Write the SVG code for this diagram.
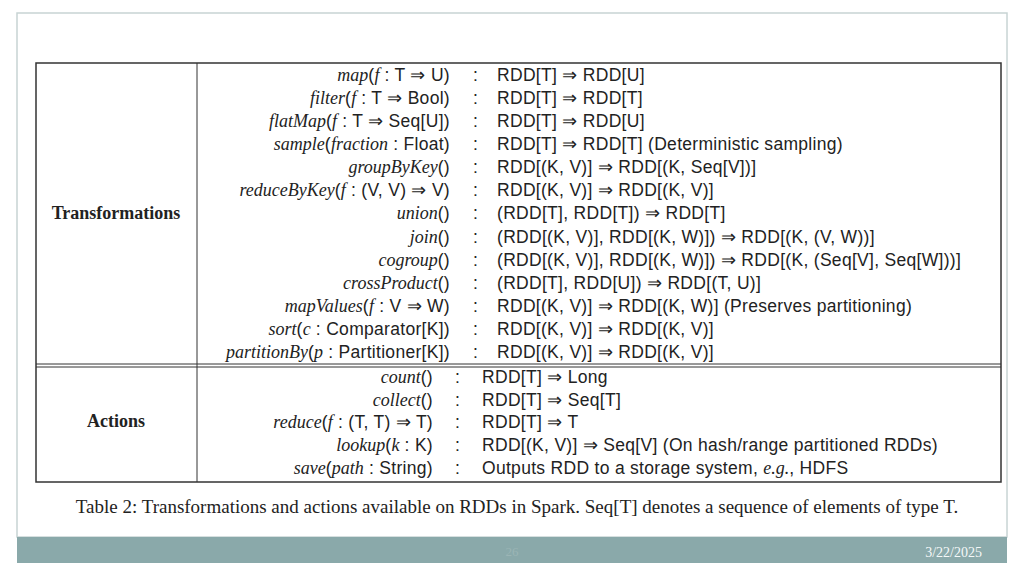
<svg xmlns="http://www.w3.org/2000/svg" width="1024" height="576" viewBox="0 0 1024 576">
<style>
text{font-family:"Liberation Sans",sans-serif;font-size:17.5px;letter-spacing:0.3px;fill:#222}
.l{text-anchor:end}
.c{text-anchor:middle}
.i{font-style:italic;font-family:"Liberation Serif",serif;font-size:18px;letter-spacing:0}
.h{font-weight:bold;font-family:"Liberation Serif",serif;font-size:18px;letter-spacing:0}
.s{font-family:"Liberation Serif",serif;letter-spacing:0}
</style>
<rect width="1024" height="576" fill="#fff"/>
<rect x="17" y="13" width="990" height="524" fill="none" stroke="#c8d4d4" stroke-width="1.5"/>
<rect x="17" y="537" width="990" height="26" fill="#8aa9aa"/>
<text x="512" y="556" class="c s" style="font-size:13px;fill:#9bb5b5">26</text>
<text x="982" y="557" class="l s" style="font-size:14px;fill:#f4f8f8">3/22/2025</text>
<g id="table" stroke="#333" fill="none">
<rect x="36" y="63" width="965" height="419" stroke-width="1.5"/>
<line x1="197" y1="63" x2="197" y2="482"/>
<line x1="36" y1="364" x2="1001" y2="364"/>
<line x1="36" y1="367" x2="1001" y2="367"/>
</g>
<text x="116" y="219" class="c h">Transformations</text>
<text x="116" y="427" class="c h">Actions</text>
<g id="trans">
<text x="450" y="81" class="l"><tspan class="i">map</tspan>(<tspan class="i">f</tspan> : T ⇒ U)</text>
<text x="450" y="104" class="l"><tspan class="i">filter</tspan>(<tspan class="i">f</tspan> : T ⇒ Bool)</text>
<text x="450" y="127" class="l"><tspan class="i">flatMap</tspan>(<tspan class="i">f</tspan> : T ⇒ Seq[U])</text>
<text x="450" y="150" class="l"><tspan class="i">sample</tspan>(<tspan class="i">fraction</tspan> : Float)</text>
<text x="450" y="173" class="l"><tspan class="i">groupByKey</tspan>()</text>
<text x="450" y="196" class="l"><tspan class="i">reduceByKey</tspan>(<tspan class="i">f</tspan> : (V, V) ⇒ V)</text>
<text x="450" y="219" class="l"><tspan class="i">union</tspan>()</text>
<text x="450" y="243" class="l"><tspan class="i">join</tspan>()</text>
<text x="450" y="266" class="l"><tspan class="i">cogroup</tspan>()</text>
<text x="450" y="289" class="l"><tspan class="i">crossProduct</tspan>()</text>
<text x="450" y="312" class="l"><tspan class="i">mapValues</tspan>(<tspan class="i">f</tspan> : V ⇒ W)</text>
<text x="450" y="335" class="l"><tspan class="i">sort</tspan>(<tspan class="i">c</tspan> : Comparator[K])</text>
<text x="450" y="358" class="l"><tspan class="i">partitionBy</tspan>(<tspan class="i">p</tspan> : Partitioner[K])</text>
</g>
<g id="colons">
<text x="473" y="81">:</text><text x="473" y="104">:</text><text x="473" y="127">:</text><text x="473" y="150">:</text><text x="473" y="173">:</text><text x="473" y="196">:</text><text x="473" y="219">:</text><text x="473" y="243">:</text><text x="473" y="266">:</text><text x="473" y="289">:</text><text x="473" y="312">:</text><text x="473" y="335">:</text><text x="473" y="358">:</text>
<text x="455" y="383">:</text><text x="455" y="406">:</text><text x="455" y="428">:</text><text x="455" y="451">:</text><text x="455" y="474">:</text>
</g>
<g id="types">
<text x="497" y="81">RDD[T] ⇒ RDD[U]</text>
<text x="497" y="104">RDD[T] ⇒ RDD[T]</text>
<text x="497" y="127">RDD[T] ⇒ RDD[U]</text>
<text x="497" y="150">RDD[T] ⇒ RDD[T]  (Deterministic sampling)</text>
<text x="497" y="173">RDD[(K, V)] ⇒ RDD[(K, Seq[V])]</text>
<text x="497" y="196">RDD[(K, V)] ⇒ RDD[(K, V)]</text>
<text x="497" y="219">(RDD[T], RDD[T]) ⇒ RDD[T]</text>
<text x="497" y="243">(RDD[(K, V)], RDD[(K, W)]) ⇒ RDD[(K, (V, W))]</text>
<text x="497" y="266">(RDD[(K, V)], RDD[(K, W)]) ⇒ RDD[(K, (Seq[V], Seq[W]))]</text>
<text x="497" y="289">(RDD[T], RDD[U]) ⇒ RDD[(T, U)]</text>
<text x="497" y="312">RDD[(K, V)] ⇒ RDD[(K, W)]  (Preserves partitioning)</text>
<text x="497" y="335">RDD[(K, V)] ⇒ RDD[(K, V)]</text>
<text x="497" y="358">RDD[(K, V)] ⇒ RDD[(K, V)]</text>
</g>
<g id="actions">
<text x="433" y="383" class="l"><tspan class="i">count</tspan>()</text>
<text x="433" y="406" class="l"><tspan class="i">collect</tspan>()</text>
<text x="433" y="428" class="l"><tspan class="i">reduce</tspan>(<tspan class="i">f</tspan> : (T, T) ⇒ T)</text>
<text x="433" y="451" class="l"><tspan class="i">lookup</tspan>(<tspan class="i">k</tspan> : K)</text>
<text x="433" y="474" class="l"><tspan class="i">save</tspan>(<tspan class="i">path</tspan> : String)</text>
<text x="482" y="383">RDD[T] ⇒ Long</text>
<text x="482" y="406">RDD[T] ⇒ Seq[T]</text>
<text x="482" y="428">RDD[T] ⇒ T</text>
<text x="482" y="451">RDD[(K, V)] ⇒ Seq[V]  (On hash/range partitioned RDDs)</text>
<text x="482" y="474">Outputs RDD to a storage system, <tspan class="i">e.g.</tspan>, HDFS</text>
</g>
<text x="517" y="513" class="c s" style="font-size:19px">Table 2: Transformations and actions available on RDDs in Spark. Seq[T] denotes a sequence of elements of type T.</text>
</svg>
